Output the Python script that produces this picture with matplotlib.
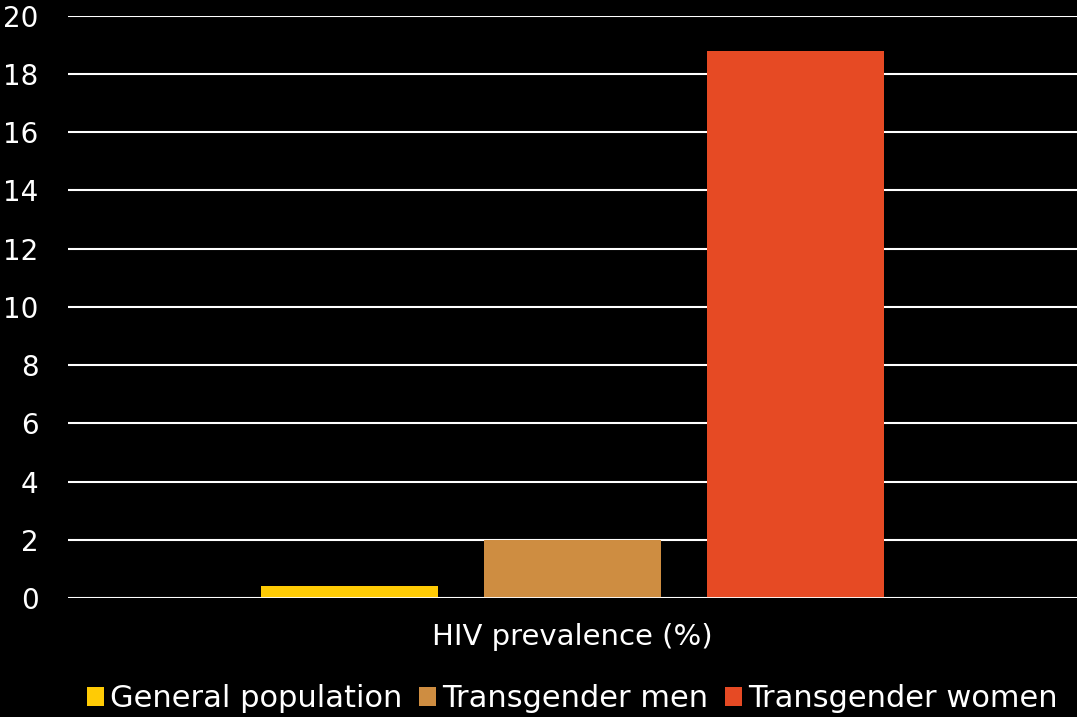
import numpy as np
import matplotlib.pyplot as plt

plt.rcParams['font.family'] = ['DejaVu Sans']

# 数据
category = 'HIV prevalence (%)'
series = ['General population', 'Transgender men', 'Transgender women']
values = [0.4, 2.0, 18.8]
colors = ['#ffcb05', '#ce8d41', '#e64a24']

fig = plt.figure(figsize=(10.77, 7.17), dpi=100, facecolor='black')
ax = fig.add_axes([0.063, 0.166, 0.937, 0.812])
ax.set_facecolor('black')

offsets = [-0.221, 0, 0.221]
for name, val, col, off in zip(series, values, colors, offsets):
    ax.bar(off, val, width=0.175, color=col, label=name, zorder=3)

ax.set_xlim(-0.5, 0.5)
ax.set_ylim(0, 20)
ax.set_yticks(np.arange(0, 21, 2))
ax.set_xticks([0])
ax.set_xticklabels([category])
ax.grid(axis='y', color='white', linewidth=1.5, zorder=0)
ax.axhline(0, color='white', linewidth=2, zorder=4)
ax.tick_params(colors='white', length=0)
ax.tick_params(axis='y', labelsize=20, pad=21)
ax.tick_params(axis='x', labelsize=21, pad=18)
for s in ax.spines.values():
    s.set_visible(False)

leg = ax.legend(loc='lower center', bbox_to_anchor=(0.5, -0.245), ncol=3,
                frameon=False, fontsize=22, handlelength=0.55, handleheight=0.55,
                handletextpad=0.2, columnspacing=0.55, labelcolor='white')

fig.savefig('out.png', dpi=100, facecolor='black')
